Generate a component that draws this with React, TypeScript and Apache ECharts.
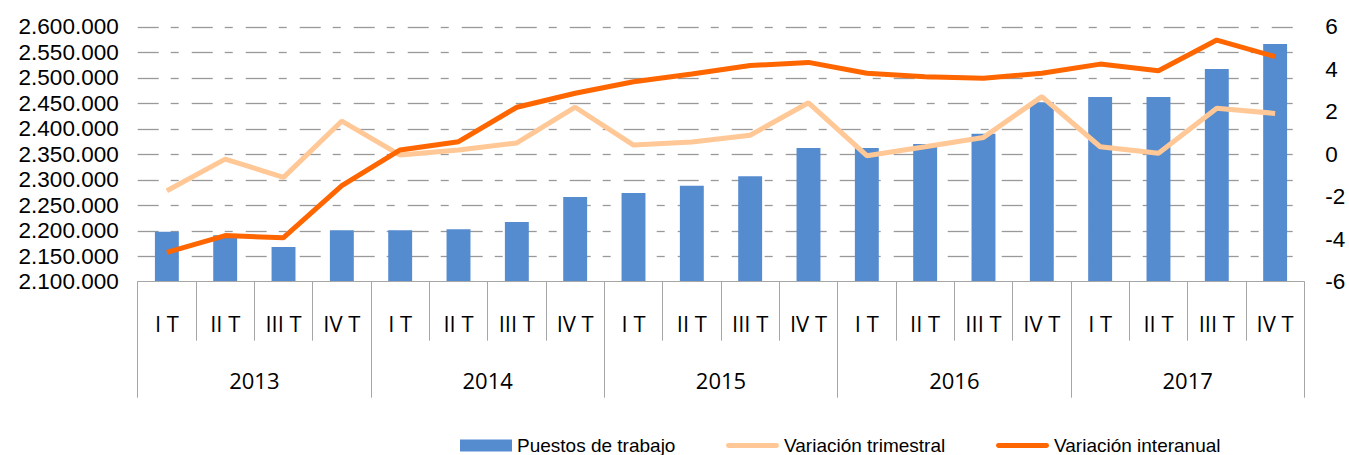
import React, { useEffect, useRef } from "react";
import * as echarts from "echarts";

const quarters = [
  "I T", "II T", "III T", "IV T",
  "I T", "II T", "III T", "IV T",
  "I T", "II T", "III T", "IV T",
  "I T", "II T", "III T", "IV T",
  "I T", "II T", "III T", "IV T",
];
const years = ["2013", "2014", "2015", "2016", "2017"];

const puestosDeTrabajo = [
  2198000, 2191000, 2168000, 2201000,
  2201000, 2203000, 2217000, 2266000,
  2274000, 2288000, 2307000, 2362000,
  2362000, 2370000, 2390000, 2452000,
  2462000, 2462000, 2517000, 2566000,
];
const variacionTrimestral = [
  -1.72, -0.23, -1.09, 1.56,
  -0.04, 0.2, 0.53, 2.21,
  0.43, 0.57, 0.89, 2.42,
  -0.07, 0.35, 0.79, 2.71,
  0.35, 0.04, 2.16, 1.92,
];
const variacionInteranual = [
  -4.62, -3.83, -3.93, -1.48,
  0.2, 0.59, 2.21, 2.87,
  3.41, 3.77, 4.17, 4.32,
  3.81, 3.65, 3.57, 3.81,
  4.24, 3.93, 5.37, 4.59,
];

const leftMin = 2100000;
const leftMax = 2600000;
const leftInterval = 50000;
const rightMin = -6;
const rightMax = 6;
const rightInterval = 2;

// tick values of the left axis (used for the dashed grid lines)
const leftTicks = [
  2150000, 2200000, 2250000, 2300000, 2350000,
  2400000, 2450000, 2500000, 2550000, 2600000,
];

const fmtThousands = (v: number) =>
  String(Math.round(v)).replace(/\B(?=(\d{3})+(?!\d))/g, ".");

const AXIS_FONT = "'Open Sans', 'Noto Sans', sans-serif";
const Y_FONT = "'Liberation Sans', Arial, sans-serif";
const LEGEND_FONT = "'Liberation Sans', Arial, sans-serif";
const GRAY = "#A6A6A6";
const GRID_COLOR = "#999999";
const DASH = [21, 12, 8, 13];
const LINE_ICON = "path://M2.5,0 L51.5,0 A2.5,2.5 0 0 1 51.5,5 L2.5,5 A2.5,2.5 0 0 1 2.5,0 Z";

export default function App() {
  const ref = useRef<HTMLDivElement>(null);

  useEffect(() => {
    if (!ref.current) return;
    const chart = echarts.init(ref.current, null, { renderer: "svg" });
    const legendText = { fontFamily: LEGEND_FONT, fontSize: 19, color: "#000", lineHeight: 19 };
    chart.setOption({
      animation: false,
      backgroundColor: "#fff",
      grid: { left: 137.7, right: 44.7, top: 26.7, bottom: 173.3, containLabel: false },
      legend: [
        {
          data: [{ name: "Puestos de trabajo", icon: "rect" }],
          left: 460,
          top: 436,
          padding: 0,
          itemWidth: 52,
          itemHeight: 12,
          textStyle: legendText,
          selectedMode: false,
        },
        {
          data: [{ name: "Variación trimestral", icon: LINE_ICON }],
          left: 726,
          top: 436,
          padding: 0,
          itemWidth: 53,
          itemHeight: 5,
          textStyle: legendText,
          selectedMode: false,
        },
        {
          data: [{ name: "Variación interanual", icon: LINE_ICON }],
          left: 996,
          top: 436,
          padding: 0,
          itemWidth: 53,
          itemHeight: 5,
          textStyle: legendText,
          selectedMode: false,
        },
      ],
      xAxis: [
        {
          type: "category",
          data: quarters,
          position: "bottom",
          axisLine: { show: true, onZero: false, lineStyle: { color: GRAY, width: 1 } },
          axisTick: { show: true, interval: 0, length: 59, lineStyle: { color: GRAY, width: 1 } },
          axisLabel: { interval: 0, margin: 30, fontSize: 22, fontFamily: AXIS_FONT, color: "#000" },
          splitLine: { show: false },
          z: 5,
        },
        {
          type: "category",
          data: years,
          position: "bottom",
          axisLine: { show: false, onZero: false },
          axisTick: { show: true, interval: 0, length: 116, lineStyle: { color: GRAY, width: 1 } },
          axisLabel: { interval: 0, margin: 87, fontSize: 22, fontFamily: AXIS_FONT, color: "#000" },
          splitLine: { show: false },
        },
      ],
      yAxis: [
        {
          type: "value",
          min: leftMin,
          max: leftMax,
          interval: leftInterval,
          position: "left",
          axisLine: { show: false },
          axisTick: { show: false },
          axisLabel: {
            margin: 19,
            fontSize: 22.5,
            fontFamily: Y_FONT,
            color: "#000",
            formatter: (v: number) => fmtThousands(v),
          },
          splitLine: { show: false },
        },
        {
          type: "value",
          min: rightMin,
          max: rightMax,
          interval: rightInterval,
          position: "right",
          axisLine: { show: false },
          axisTick: { show: false },
          axisLabel: { margin: 21, fontSize: 22.5, fontFamily: Y_FONT, color: "#000" },
          splitLine: { show: false },
        },
      ],
      series: [
        {
          name: "grid",
          type: "custom",
          xAxisIndex: 0,
          yAxisIndex: 0,
          silent: true,
          z: 0,
          data: leftTicks.map((v) => [0, v]),
          encode: { x: 0, y: 1 },
          renderItem: (params: any, api: any) => {
            const cs = params.coordSys;
            const y = Math.round(api.coord([0, api.value(1)])[1]) + 0.5;
            const end = cs.x + cs.width;
            const children: any[] = [];
            let x = cs.x;
            let k = 0;
            while (x < end) {
              const len = DASH[k % DASH.length];
              if (k % 2 === 0) {
                children.push({
                  type: "line",
                  shape: { x1: x, y1: y, x2: Math.min(x + len, end), y2: y },
                  style: { stroke: GRID_COLOR, lineWidth: 1.3 },
                });
              }
              x += len;
              k++;
            }
            return { type: "group", children };
          },
        },
        {
          name: "Puestos de trabajo",
          type: "bar",
          xAxisIndex: 0,
          yAxisIndex: 0,
          data: puestosDeTrabajo,
          barWidth: "41%",
          itemStyle: { color: "#558BCF" },
          z: 2,
        },
        {
          name: "Variación trimestral",
          type: "line",
          xAxisIndex: 0,
          yAxisIndex: 1,
          data: variacionTrimestral,
          symbol: "none",
          lineStyle: { color: "#FFC896", width: 5 },
          itemStyle: { color: "#FFC896" },
          z: 3,
        },
        {
          name: "Variación interanual",
          type: "line",
          xAxisIndex: 0,
          yAxisIndex: 1,
          data: variacionInteranual,
          symbol: "none",
          lineStyle: { color: "#FF6600", width: 5 },
          itemStyle: { color: "#FF6600" },
          z: 4,
        },
      ],
    });
    return () => chart.dispose();
  }, []);

  return (
    <div
      ref={ref}
      style={{ position: "absolute", left: 0, top: 0, width: 1349, height: 455 }}
    />
  );
}
